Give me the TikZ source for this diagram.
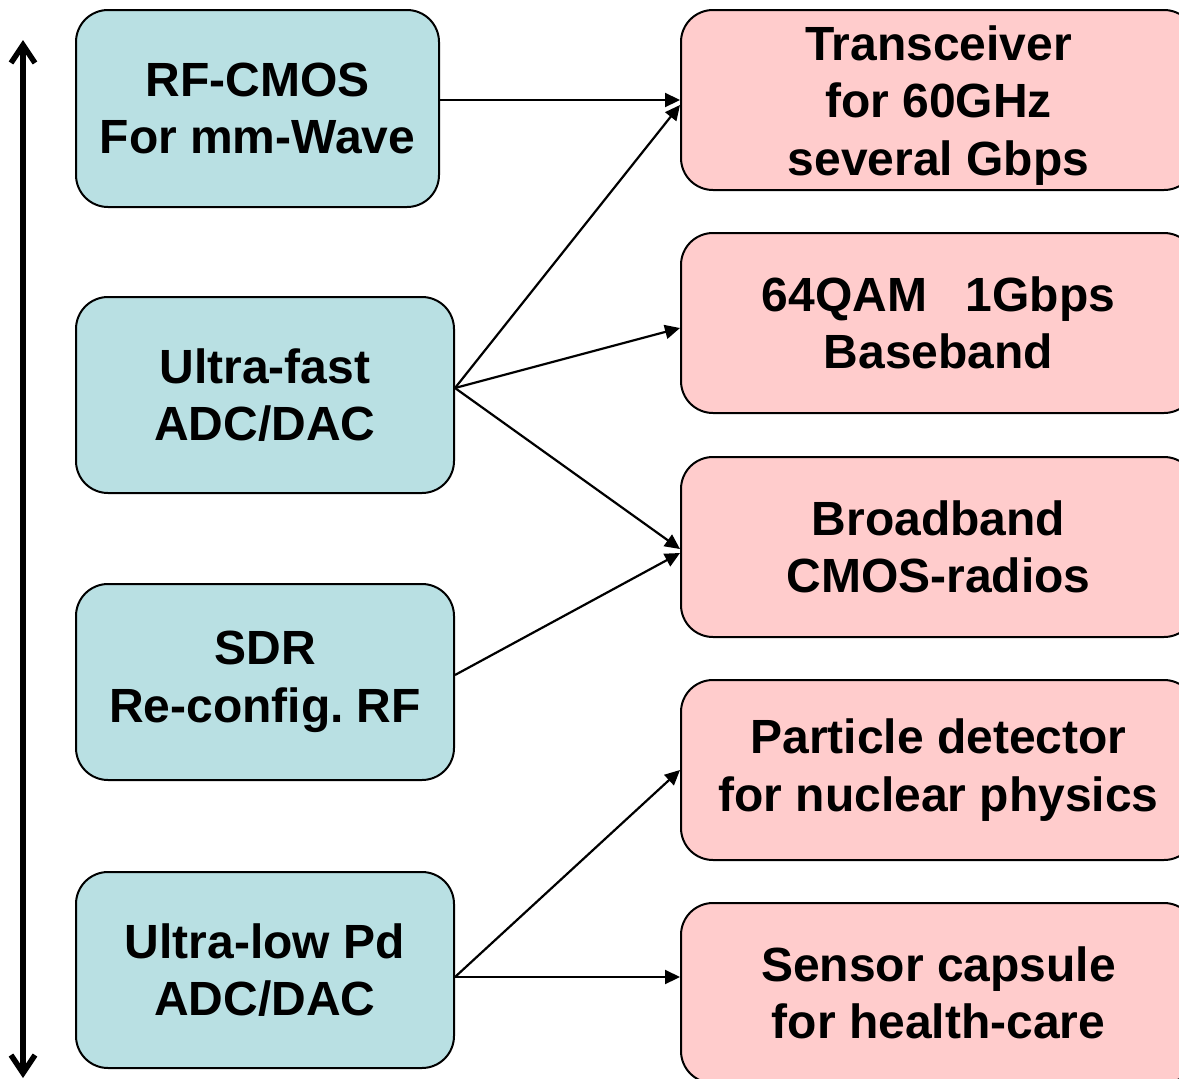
\documentclass[tikz,border=0pt]{standalone}
\usepackage{fontspec}
\setmainfont{Liberation Sans}
\usepackage{tikz}
\usetikzlibrary{arrows.meta}
\definecolor{techfill}{HTML}{B9E0E3}
\definecolor{appfill}{HTML}{FFCCCC}
\frenchspacing

\begin{document}
\begin{tikzpicture}[x=1pt, y=-1pt,
  box/.style={draw, line width=2pt, rounded corners=32pt, align=center,
    inner sep=0pt, font=\fontsize{48}{57.5}\selectfont\bfseries},
  techbox/.style={box, fill=techfill, minimum width=378pt, minimum height=196pt},
  appbox/.style={box, fill=appfill, minimum width=515pt, minimum height=180pt},
  link/.style={line width=2.2pt, -{Triangle[length=15pt,width=14pt]}}]

\useasboundingbox (0,0) rectangle (1179,1079);

% technologies (left column)
\node[techbox, minimum width=363pt, minimum height=197pt] (rfcmos) at (257.5,108.5)
  {RF-CMOS\\For mm-Wave};
\node[techbox] (fastadc) at (265,395) {Ultra-fast\\ADC/DAC};
\node[techbox] (sdr) at (265,682) {SDR\\Re-config. RF};
\node[techbox] (lowpd) at (265,970) {Ultra-low Pd\\ADC/DAC};

% applications (right column)
\node[appbox] (transceiver) at (938.5,100)
  {\rule{0pt}{45pt}Transceiver\\for 60GHz\\several Gbps};
\node[appbox] (baseband) at (938.5,323) {64QAM\hspace{0.8em}1Gbps\\Baseband};
\node[appbox] (radios) at (938.5,547) {Broadband\\CMOS-radios};
\node[appbox] (detector) at (938.5,770) {Particle detector\\for nuclear physics};
\node[appbox] (capsule) at (938.5,993) {Sensor capsule\\for health-care};

\draw[link] (rfcmos.east |- transceiver.west) -- (transceiver.west);
\draw[link] ([yshift=7pt]fastadc.east) -- ([yshift=-5pt]transceiver.west);
\draw[link] ([yshift=7pt]fastadc.east) -- ([yshift=-5pt]baseband.west);
\draw[link] ([yshift=7pt]fastadc.east) -- ([yshift=-2pt]radios.west);
\draw[link] ([yshift=7pt]sdr.east) -- ([yshift=-6pt]radios.west);
\draw[link] ([yshift=-7pt]lowpd.east) -- (detector.west);
\draw[link] ([yshift=-7pt]lowpd.east) -- ([yshift=-7pt]lowpd.east -| capsule.west);

% scale arrow
\coordinate (top) at (23,40);
\coordinate (bottom) at (23,1078);
\draw[line width=5.5pt, {Straight Barb[length=18pt,width=24pt]}-{Straight Barb[length=18pt,width=24pt]}]
  (top) -- (bottom);

\end{tikzpicture}
\end{document}
